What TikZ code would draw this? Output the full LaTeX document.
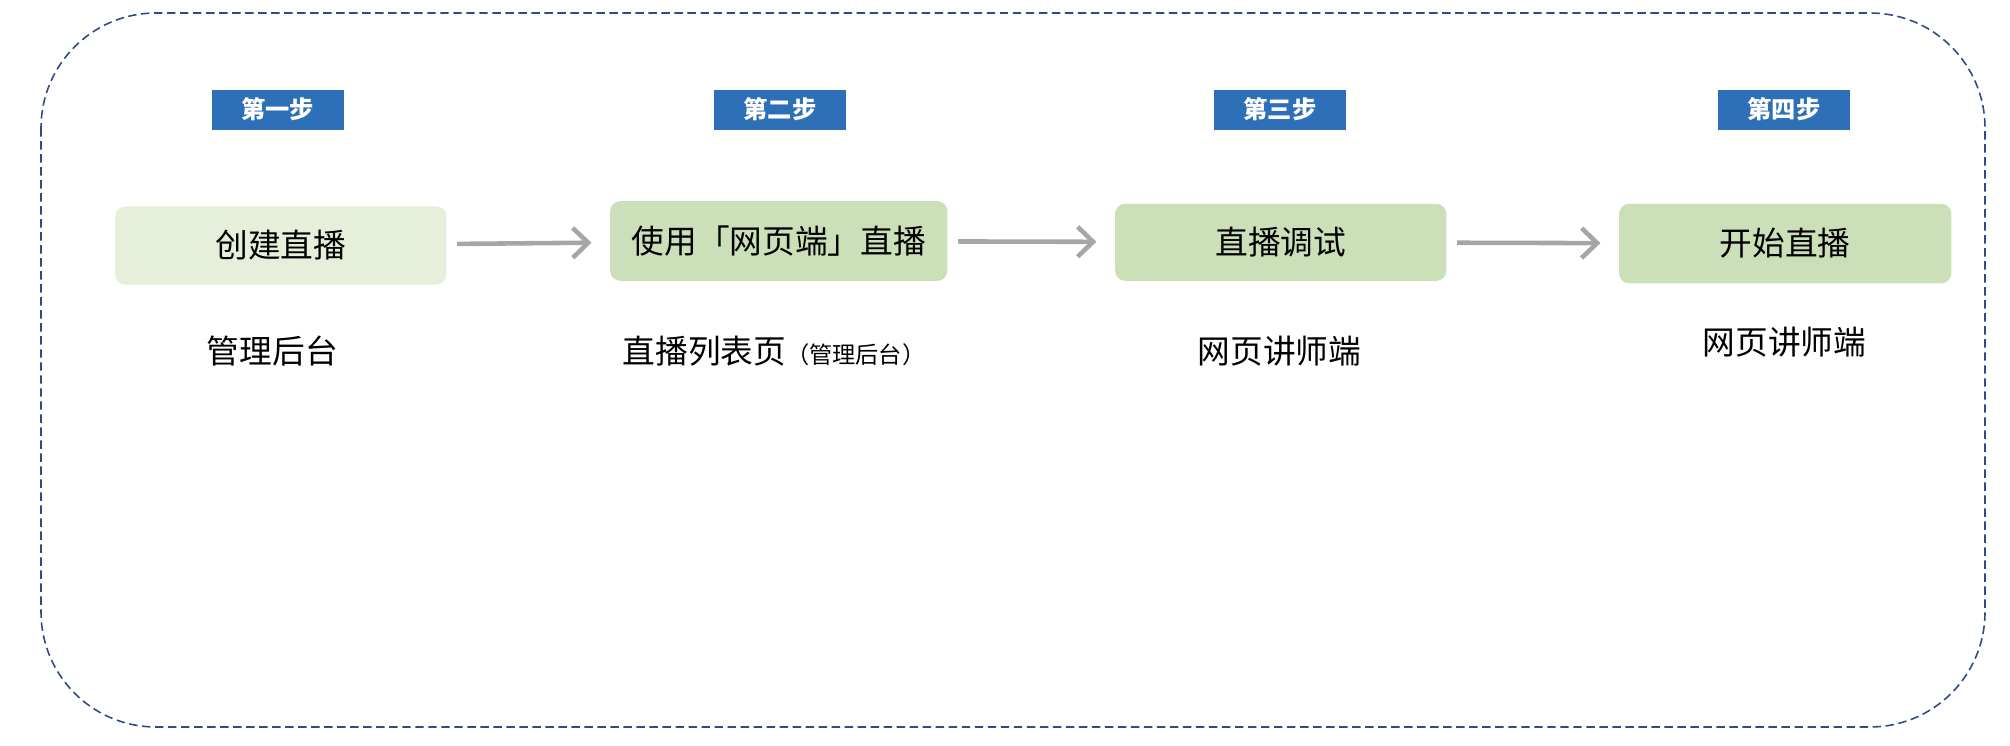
\documentclass[tikz,border=0pt]{standalone}
\usepackage{fontspec}
\setmainfont{Noto Sans CJK SC}
\usepackage{xcolor}
\usepackage{tikz}
\usetikzlibrary{arrows.meta,positioning}
\definecolor{tagblue}{RGB}{46,112,184}
\definecolor{paleleaf}{RGB}{229,239,218}
\definecolor{leaf}{RGB}{203,223,184}
\definecolor{framecol}{RGB}{47,74,138}
\definecolor{flowgray}{RGB}{166,166,166}

\begin{document}
\begin{tikzpicture}[x=0.01cm,y=-0.01cm,>={Straight Barb[length=4.4pt,width=8.5pt]},
    font=\fontsize{9.3}{11}\selectfont,
    tag/.style={fill=tagblue,text=white,minimum width=1.32cm,minimum height=0.4cm,inner sep=0pt,
      font=\fontsize{6.9}{8}\selectfont\bfseries},
    stepbox/.style={fill=leaf,rounded corners=0.1cm,minimum width=3.31cm,minimum height=0.78cm,inner sep=0pt},
    flow/.style={->,flowgray,line width=1.3pt,shorten <=0.1cm,shorten >=0.18cm}]
    \useasboundingbox (0,0) rectangle (2010,746);
    \draw[framecol,line width=0.45pt,dash pattern=on 2.4pt off 1.3pt,rounded corners=1.15cm]
      (41,13) rectangle (1985,727);
    % step tags
    \foreach \i/\x/\t in {1/277.6/第一步,2/780/第二步,3/1280/第三步,4/1784/第四步}
      \node[tag] (t\i) at (\x,109.6) {\t};
    % steps
    \node[stepbox,fill=paleleaf] (b1) at (280.8,245.5) {创建直播};
    \node[stepbox,minimum width=3.37cm,minimum height=0.795cm] (b2) at (778.8,241) {使用「网页端」直播};
    \node[stepbox,minimum height=0.77cm] (b3) at (1280.7,242.3) {直播调试};
    \node[stepbox,minimum width=3.32cm,minimum height=0.795cm] (b4) at (1785.2,243.6) {开始直播};
    \draw[flow] (b1) -- (b2);
    \draw[flow] (b2) -- (b3);
    \draw[flow] (b3) -- (b4);
    % where
    \node (s1) at (272.4,351) {管理后台};
    \node (s2) at (774,351) {直播列表页{\fontsize{6.6}{8}\selectfont（管理后台）}};
    \node (s3) at (1279.4,351) {网页讲师端};
    \node (s4) at (1784.5,342) {网页讲师端};
  \end{tikzpicture}
\end{document}
